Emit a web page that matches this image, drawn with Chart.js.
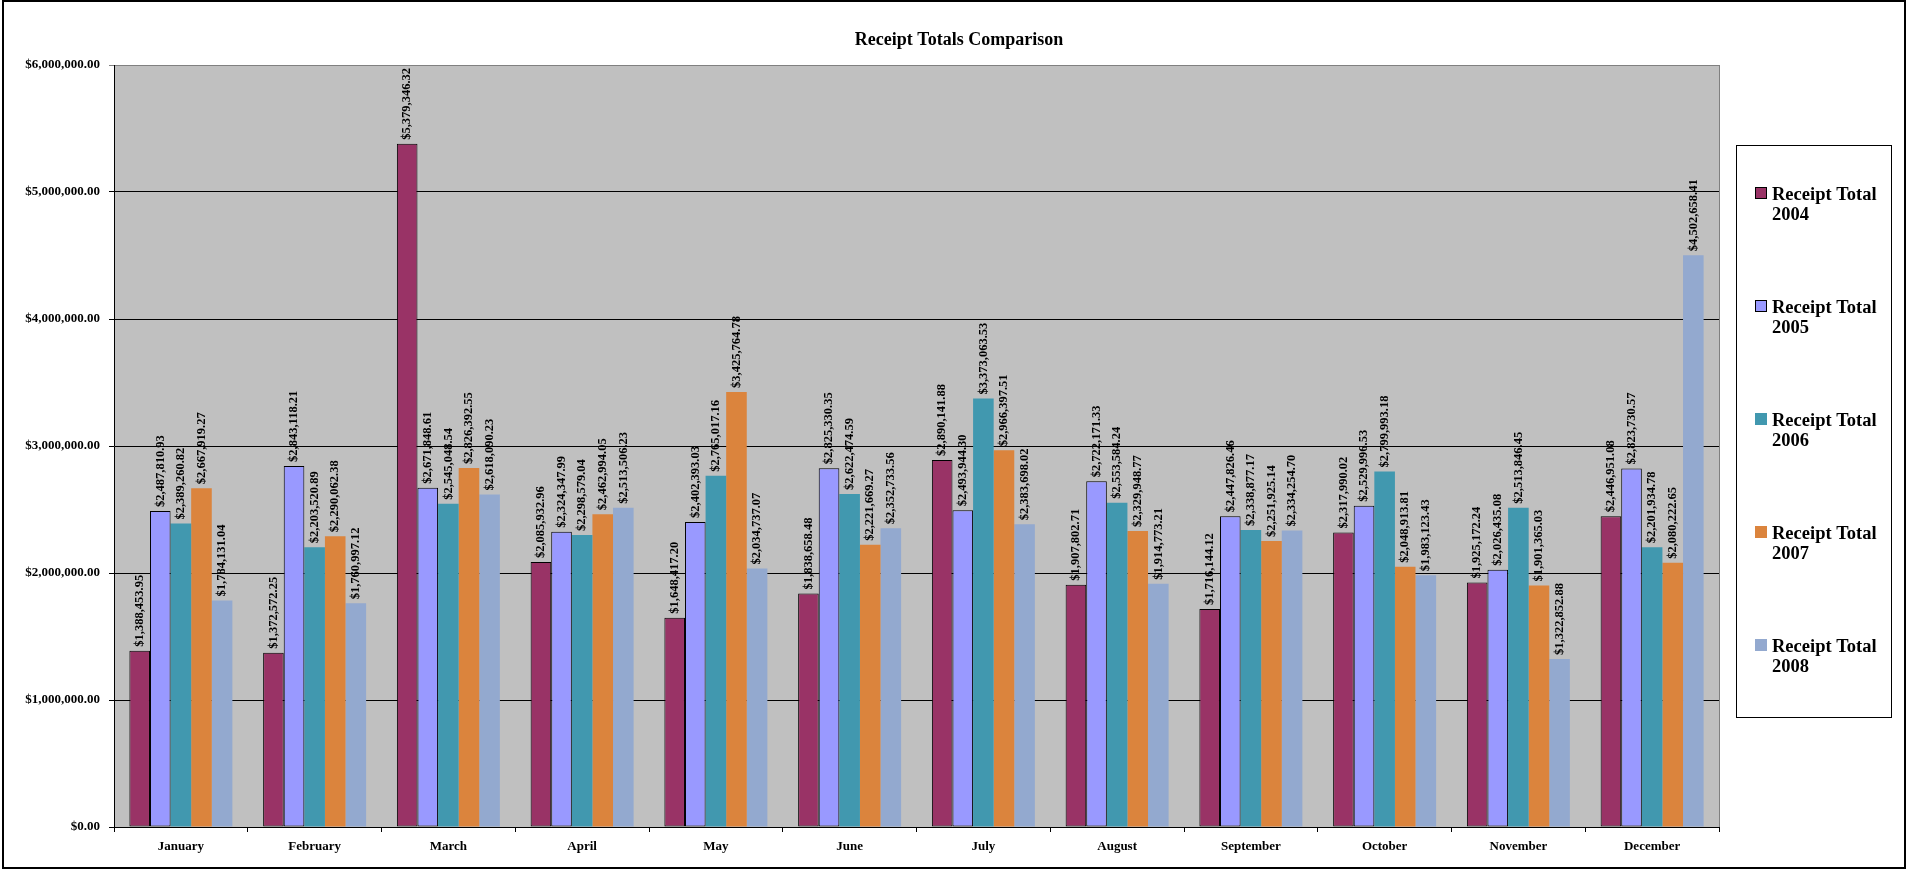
<!DOCTYPE html>
<html>
<head>
<meta charset="utf-8">
<title>Receipt Totals Comparison</title>
<script src="https://cdn.jsdelivr.net/npm/chart.js@4"></script>
<style>
  html, body { margin: 0; padding: 0; background: #fff; }
  canvas { display: block; }
</style>
</head>
<body>
<canvas id="receiptChart" width="1907" height="869"></canvas>
<script>
const months = ['January', 'February', 'March', 'April', 'May', 'June',
  'July', 'August', 'September', 'October', 'November', 'December'];

const seriesNames = ['Receipt Total 2004', 'Receipt Total 2005', 'Receipt Total 2006',
  'Receipt Total 2007', 'Receipt Total 2008'];

const totals2004 = [1388453.95, 1372572.25, 5379346.32, 2085932.96, 1648417.20, 1838658.48,
  2890141.88, 1907802.71, 1716144.12, 2317990.02, 1925172.24, 2446951.08];
const totals2005 = [2487810.93, 2843118.21, 2671848.61, 2324347.99, 2402393.03, 2825330.35,
  2493944.30, 2722171.33, 2447826.46, 2529996.53, 2026435.08, 2823730.57];
const totals2006 = [2389260.82, 2203520.89, 2545048.54, 2298579.04, 2765017.16, 2622474.59,
  3373063.53, 2553584.24, 2338877.17, 2799993.18, 2513846.45, 2201934.78];
const totals2007 = [2667919.27, 2290062.38, 2826392.55, 2462994.05, 3425764.78, 2221669.27,
  2966397.51, 2329948.77, 2251925.14, 2048913.81, 1901365.03, 2080222.65];
const totals2008 = [1784131.04, 1760997.12, 2618090.23, 2513506.23, 2034737.07, 2352733.56,
  2383698.02, 1914773.21, 2334254.70, 1983123.43, 1322852.88, 4502658.41];

const yTickValues = [0, 1000000, 2000000, 3000000, 4000000, 5000000, 6000000];

const serif = "'Liberation Serif', 'Times New Roman', serif";

function money(v) {
  return '$' + v.toLocaleString('en-US', { minimumFractionDigits: 2, maximumFractionDigits: 2 });
}

function makeSet(i, data, color, outlined) {
  return {
    label: seriesNames[i],
    data: data,
    backgroundColor: color,
    borderColor: '#000000',
    borderWidth: outlined ? 1 : 0,
    borderSkipped: false,
    categoryPercentage: 0.77,
    barPercentage: 1.0
  };
}

// grey plot area, outer frame, title and the boxed legend on the right
const frame = {
  id: 'frame',
  beforeDraw(chart) {
    const { ctx, chartArea: a } = chart;
    ctx.save();
    ctx.fillStyle = '#ffffff';
    ctx.fillRect(0, 0, chart.width, chart.height);
    ctx.fillStyle = '#c0c0c0';
    ctx.fillRect(a.left, a.top, a.right - a.left, a.bottom - a.top);
    ctx.restore();
  },
  afterDraw(chart) {
    const { ctx, chartArea: a } = chart;
    ctx.save();

    // right edge of the plot
    ctx.strokeStyle = '#808080';
    ctx.lineWidth = 1;
    ctx.beginPath();
    ctx.moveTo(Math.round(a.right) + 0.5, a.top);
    ctx.lineTo(Math.round(a.right) + 0.5, a.bottom);
    ctx.stroke();

    // outer frame
    ctx.strokeStyle = '#000000';
    ctx.lineWidth = 2;
    ctx.strokeRect(3, 1, chart.width - 5, chart.height - 2);

    // title
    ctx.fillStyle = '#000000';
    ctx.font = 'bold 18px ' + serif;
    ctx.textAlign = 'center';
    ctx.textBaseline = 'alphabetic';
    ctx.fillText('Receipt Totals Comparison', 959, 45);

    // legend
    ctx.lineWidth = 1;
    ctx.fillStyle = '#ffffff';
    ctx.fillRect(1736, 145, 155, 572);
    ctx.strokeStyle = '#000000';
    ctx.strokeRect(1736.5, 145.5, 155, 572);
    ctx.font = 'bold 18.5px ' + serif;
    ctx.textAlign = 'left';
    chart.data.datasets.forEach((ds, i) => {
      const base = 200 + 113 * i;
      ctx.fillStyle = ds.backgroundColor;
      ctx.fillRect(1755, base - 13, 12, 12);
      if (ds.borderWidth > 0) {
        ctx.strokeStyle = '#000000';
        ctx.strokeRect(1755.5, base - 12.5, 11, 11);
      }
      const cut = ds.label.lastIndexOf(' ');
      ctx.fillStyle = '#000000';
      ctx.fillText(ds.label.slice(0, cut), 1772, base);
      ctx.fillText(ds.label.slice(cut + 1), 1772, base + 20);
    });
    ctx.restore();
  }
};

// upright value labels on top of every bar
const barValues = {
  id: 'barValues',
  afterDatasetsDraw(chart) {
    const ctx = chart.ctx;
    ctx.save();
    ctx.font = 'bold 12.5px ' + serif;
    ctx.fillStyle = '#000000';
    ctx.textAlign = 'left';
    ctx.textBaseline = 'middle';
    chart.data.datasets.forEach((ds, i) => {
      chart.getDatasetMeta(i).data.forEach((bar, j) => {
        ctx.save();
        ctx.translate(bar.x, bar.y - 4);
        ctx.rotate(-Math.PI / 2);
        ctx.fillText(money(ds.data[j]), 0, 0);
        ctx.restore();
      });
    });
    ctx.restore();
  }
};

const ctx = document.getElementById('receiptChart');
const receiptChart = new Chart(ctx, {
  type: 'bar',
  data: {
    labels: months,
    datasets: [
      makeSet(0, totals2004, '#993366', true),
      makeSet(1, totals2005, '#9999ff', true),
      makeSet(2, totals2006, '#4198af', false),
      makeSet(3, totals2007, '#db843d', false),
      makeSet(4, totals2008, '#93a9cf', false)
    ]
  },
  options: {
    responsive: false,
    animation: false,
    layout: { padding: { top: 65, right: 188, left: 0, bottom: 0 } },
    plugins: {
      legend: { display: false },
      title: { display: false },
      tooltip: { enabled: false }
    },
    scales: {
      x: {
        afterFit(scale) { scale.height = 42; },
        border: { color: '#000000', width: 1 },
        grid: {
          drawOnChartArea: false,
          drawTicks: true,
          tickLength: 5,
          color: '#000000'
        },
        ticks: {
          color: '#000000',
          padding: 7,
          font: { family: serif, size: 13, weight: 'bold' },
          maxRotation: 0
        }
      },
      y: {
        min: 0,
        max: 6000000,
        afterFit(scale) { scale.width = 114; },
        afterBuildTicks(scale) { scale.ticks = yTickValues.map(v => ({ value: v })); },
        border: { color: '#000000', width: 1 },
        grid: {
          color: c => (c.tick && c.tick.value === 6000000 ? '#808080' : '#000000'),
          lineWidth: 1,
          tickLength: 5
        },
        ticks: {
          color: '#000000',
          padding: 9,
          font: { family: serif, size: 13, weight: 'bold' },
          callback: v => money(v)
        }
      }
    }
  },
  plugins: [frame, barValues]
});
</script>
</body>
</html>
